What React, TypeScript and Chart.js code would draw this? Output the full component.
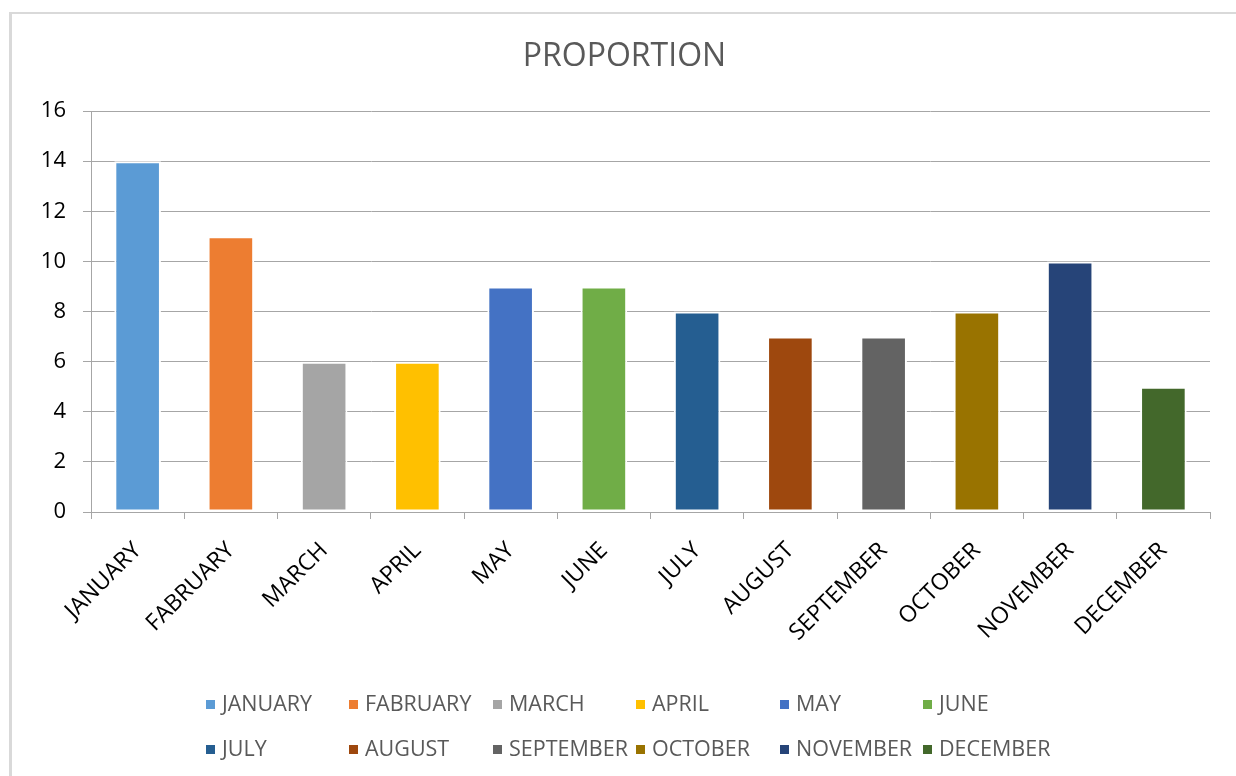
import React, { useEffect, useRef } from "react";
import { Chart, registerables } from "chart.js";

Chart.register(...registerables);

const categories = [
  "JANUARY",
  "FABRUARY",
  "MARCH",
  "APRIL",
  "MAY",
  "JUNE",
  "JULY",
  "AUGUST",
  "SEPTEMBER",
  "OCTOBER",
  "NOVEMBER",
  "DECEMBER",
];
const values = [14, 11, 6, 6, 9, 9, 8, 7, 7, 8, 10, 5];
const barColors = [
  "#5B9BD5",
  "#ED7D31",
  "#A5A5A5",
  "#FFC000",
  "#4472C4",
  "#70AD47",
  "#255E91",
  "#9E480E",
  "#636363",
  "#997300",
  "#264478",
  "#43682B",
];
const yMin = 0;
const yMax = 16;
const yStep = 2;
const chartTitle = "PROPORTION";

const FONT = "'Open Sans', sans-serif";
const GRID = "#a6a6a6";

export default function App() {
  const ref = useRef<HTMLCanvasElement>(null);

  useEffect(() => {
    if (!ref.current) return;

    const frame = {
      id: "frame",
      beforeDraw(chart: any) {
        const ctx = chart.ctx;
        ctx.save();
        ctx.fillStyle = "#ffffff";
        ctx.fillRect(0, 0, chart.width, chart.height);
        ctx.fillStyle = "#d9d9d9";
        ctx.fillRect(9, 12, 3, chart.height - 12);
        ctx.fillRect(9, 12, chart.width - 9, 2);
        // title
        ctx.fillStyle = "#595959";
        ctx.font = `32px ${FONT}`;
        ctx.textAlign = "center";
        ctx.textBaseline = "middle";
        ctx.fillText(chartTitle, 624.5, 57);
        ctx.restore();
      },
    };

    const axisLine = {
      id: "axisLine",
      afterDatasetsDraw(chart: any) {
        const { ctx, chartArea } = chart;
        ctx.save();
        ctx.strokeStyle = GRID;
        ctx.lineWidth = 1;
        ctx.beginPath();
        const y = Math.round(chartArea.bottom) + 0.5;
        ctx.moveTo(chartArea.left, y);
        ctx.lineTo(chartArea.right, y);
        ctx.stroke();
        ctx.restore();
      },
    };

    const legendGrid = {
      id: "legendGrid",
      afterDraw(chart: any) {
        const ctx = chart.ctx;
        const labels = chart.data.labels as string[];
        const colors = chart.data.datasets[0].backgroundColor as string[];
        ctx.save();
        ctx.font = `21.5px ${FONT}`;
        ctx.textBaseline = "middle";
        ctx.textAlign = "left";
        const startX = 206;
        const colW = 143.4;
        const rowYs = [704, 749];
        labels.forEach((lab, i) => {
          const col = i % 6;
          const row = Math.floor(i / 6);
          const x = Math.round(startX + col * colW);
          const y = rowYs[row];
          ctx.fillStyle = colors[i];
          ctx.fillRect(x, y - 4, 9, 9);
          ctx.fillStyle = "#595959";
          ctx.fillText(lab, x + 16, y + 1);
        });
        ctx.restore();
      },
    };

    const chart = new Chart(ref.current, {
      type: "bar",
      data: {
        labels: categories,
        datasets: [
          {
            label: chartTitle,
            data: values,
            backgroundColor: barColors,
            borderColor: "#ffffff",
            borderWidth: 2,
            borderSkipped: false,
            barPercentage: 0.5,
            categoryPercentage: 1,
          },
        ],
      },
      options: {
        animation: false,
        responsive: false,
        devicePixelRatio: 1,
        layout: { padding: { left: 0, right: 26, top: 111, bottom: 0 } },
        plugins: {
          legend: { display: false },
          tooltip: { enabled: false },
          title: { display: false },
        },
        scales: {
          x: {
            grid: {
              display: true,
              drawOnChartArea: false,
              drawTicks: true,
              tickLength: 7,
              color: GRID,
              offset: true,
            },
            border: { display: true, color: GRID },
            ticks: {
              autoSkip: false,
              maxRotation: 45,
              minRotation: 45,
              padding: 18,
              color: "#000000",
              font: { family: FONT, size: 23 },
            },
            afterFit: (s: any) => {
              s.height = 264;
            },
          },
          y: {
            min: yMin,
            max: yMax,
            ticks: {
              stepSize: yStep,
              padding: 17,
              color: "#000000",
              font: { family: FONT, size: 22 },
            },
            grid: { color: GRID, tickLength: 8 },
            border: { display: true, color: GRID },
            afterFit: (s: any) => {
              s.width = 91;
            },
          },
        },
      },
      plugins: [frame, axisLine, legendGrid],
    } as any);

    return () => chart.destroy();
  }, []);

  return (
    <div
      style={{
        position: "fixed",
        left: 0,
        top: 0,
        width: 1236,
        height: 776,
        background: "#ffffff",
      }}
    >
      <canvas
        ref={ref}
        width={1236}
        height={776}
        style={{ display: "block", width: 1236, height: 776 }}
      />
    </div>
  );
}
